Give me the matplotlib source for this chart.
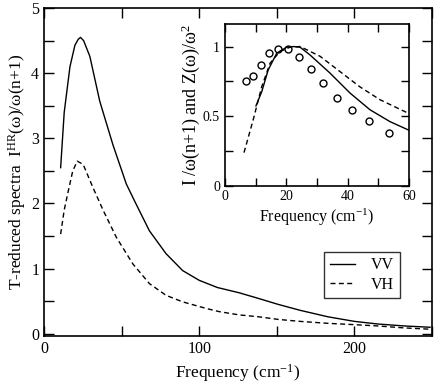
import numpy as np
import matplotlib.pyplot as plt

# main panel: T-reduced spectra
freq_vv = [10.7, 13.0, 16.7, 19.9, 22.0, 23.5, 25.5, 29.5, 35.9, 44.4, 53.0, 58.3,
           67.9, 78.6, 89.3, 100.0, 111.7, 125.6, 138.5, 151.0, 165.0, 183.0,
           200.0, 215.0, 232.0, 248.7]
spec_vv = [2.55, 3.40, 4.10, 4.43, 4.52, 4.55, 4.50, 4.26, 3.57, 2.90, 2.30, 2.04,
           1.58, 1.23, 0.97, 0.82, 0.71, 0.63, 0.54, 0.45, 0.36, 0.26,
           0.19, 0.15, 0.12, 0.10]

freq_vh = [10.7, 13.0, 15.6, 18.5, 21.4, 25.2, 31.6, 38.0, 46.6, 57.3, 67.9,
           78.6, 89.3, 104.3, 112.8, 125.6, 138.5, 151.0, 165.0, 183.0,
           200.0, 215.0, 232.0, 248.7]
spec_vh = [1.53, 1.90, 2.19, 2.50, 2.65, 2.60, 2.24, 1.90, 1.48, 1.07, 0.77,
           0.59, 0.49, 0.39, 0.34, 0.29, 0.26, 0.22, 0.19, 0.16,
           0.14, 0.12, 0.09, 0.07]

# inset: normalised curves and Z(w)/w^2 points
ins_freq_vv = [10.1, 12.0, 14.1, 16.9, 20.1, 22.3, 24.5, 27.7, 34.2, 40.8, 47.3, 53.8, 59.8]
ins_vv = [0.573, 0.676, 0.832, 0.953, 0.995, 1.0, 0.995, 0.94, 0.81, 0.665, 0.545, 0.46, 0.40]

ins_freq_vh = [6.2, 9.2, 12.0, 14.7, 17.9, 21.2, 24.5, 31.0, 37.5, 44.0, 50.6, 59.8]
ins_vh = [0.237, 0.473, 0.712, 0.88, 0.964, 0.995, 1.0, 0.93, 0.82, 0.71, 0.617, 0.52]

z_freq = [6.7, 9.0, 11.6, 14.5, 17.4, 20.7, 24.2, 27.9, 31.9, 36.6, 41.5, 47.1, 53.4]
z_vals = [0.753, 0.79, 0.868, 0.953, 0.983, 0.981, 0.928, 0.837, 0.737, 0.633, 0.545, 0.465, 0.377]

plt.rcParams['font.family'] = ['Liberation Serif', 'DejaVu Serif']
plt.rcParams['mathtext.fontset'] = 'custom'
plt.rcParams['mathtext.rm'] = 'Liberation Serif'
plt.rcParams['mathtext.it'] = 'Liberation Serif:italic'

DASH = (3.6, 2.4)


def style_axes(ax, ticksize, ticklen):
    ax.tick_params(which='both', direction='in', top=True, right=True,
                   length=ticklen, width=1.0, labelsize=ticksize)
    for s in ax.spines.values():
        s.set_linewidth(1.2)


fig = plt.figure(figsize=(4.36, 3.85), dpi=100)
ax = fig.add_axes([0.101, 0.128, 0.89, 0.851])
ax.plot(freq_vv, spec_vv, 'k-', lw=1.0, label='VV')
ax.plot(freq_vh, spec_vh, 'k--', lw=1.0, dashes=DASH, label='VH')
ax.set_xlim(0, 250)
ax.set_ylim(-0.03, 5.0)
ax.set_xticks([0, 100, 200])
ax.set_xticks([50, 150, 250], minor=True)
ax.set_yticks([0, 1, 2, 3, 4, 5])
ax.set_yticks([0.5, 1.5, 2.5, 3.5, 4.5], minor=True)
style_axes(ax, 11.5, 7)
ax.set_xlabel(r'Frequency (cm$^{-1}$)', fontsize=12.5)
ax.set_ylabel(r'T-reduced spectra  I$^{\mathrm{HR}}$(ω)/ω(n+1)', fontsize=12.5, labelpad=2)
leg = ax.legend(loc='upper left', bbox_to_anchor=(0.7216, 0.256), fontsize=11.5,
                frameon=True, fancybox=False, edgecolor='black', handlelength=1.6,
                borderpad=0.35, labelspacing=0.2, handletextpad=1.0, borderaxespad=0)
leg.get_frame().set_linewidth(1.0)

ins = fig.add_axes([0.516, 0.518, 0.422, 0.42])
ins.plot(ins_freq_vv, ins_vv, 'k-', lw=1.0)
ins.plot(ins_freq_vh, ins_vh, 'k--', lw=1.0, dashes=DASH)
ins.plot(z_freq, z_vals, 'o', mfc='none', mec='black', ms=5, mew=1.0)
ins.set_xlim(0, 60)
ins.set_ylim(0, 1.163)
ins.set_xticks([0, 20, 40, 60])
ins.set_xticks([10, 30, 50], minor=True)
ins.set_yticks([0, 0.5, 1])
ins.set_yticklabels(['0', '0.5', '1'])
ins.set_yticks([0.25, 0.75], minor=True)
style_axes(ins, 10, 6)
ins.set_xlabel(r'Frequency (cm$^{-1}$)', fontsize=11.5, labelpad=2)
ins.set_ylabel(r'I /ω(n+1) and Z(ω)/ω$^{2}$', fontsize=13, labelpad=1)

fig.savefig('out.png', dpi=100)
